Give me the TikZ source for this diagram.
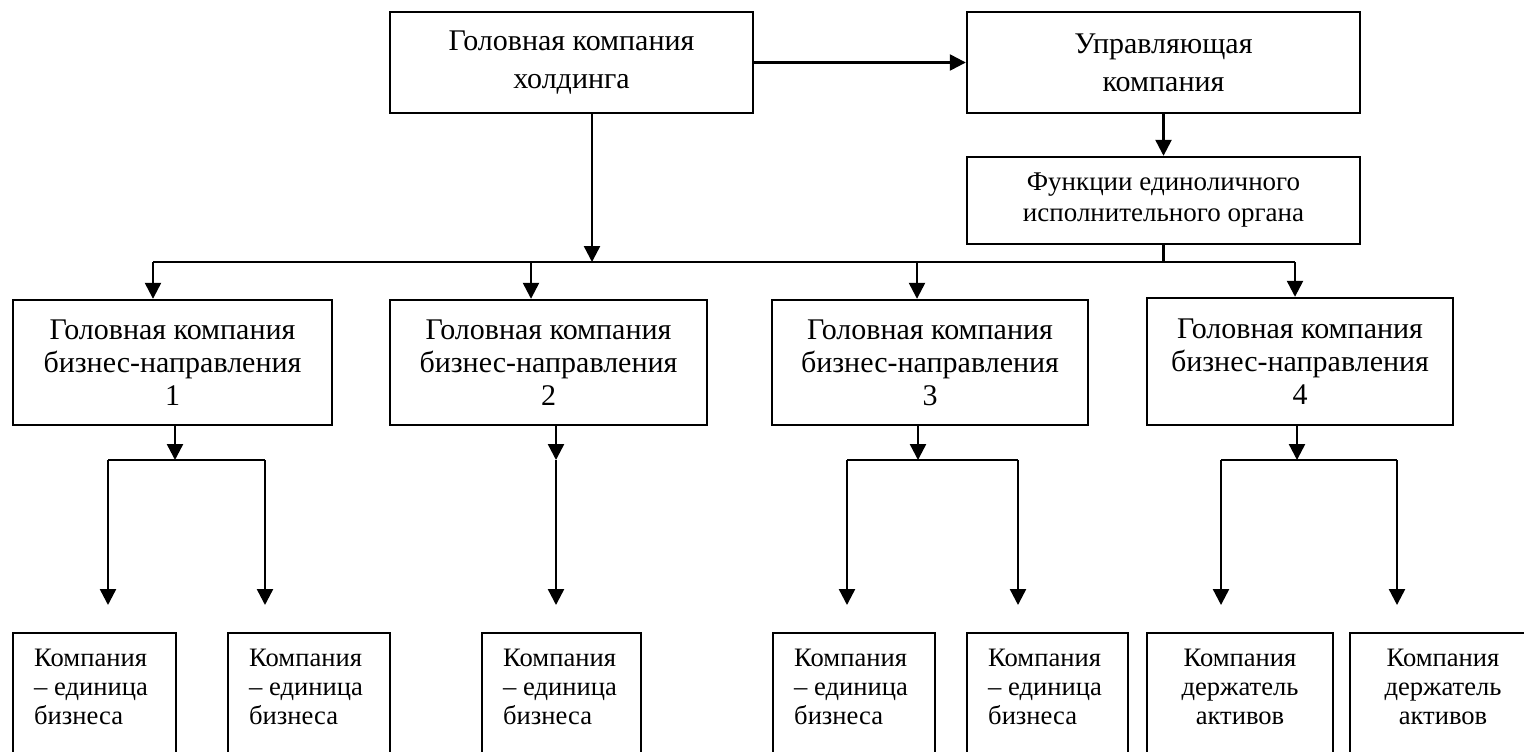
\documentclass[tikz,border=0pt]{standalone}
\usepackage{fontspec}
\setmainfont{Liberation Serif}
\usetikzlibrary{arrows.meta}

\tikzset{
  box/.style={draw, rectangle, line width=1.2pt, inner sep=0pt, align=center},
  head/.style={box, font=\fontsize{15pt}{19pt}\selectfont},
  dept/.style={box, font=\fontsize{15pt}{16.5pt}\selectfont},
  unit/.style={draw, rectangle, line width=1.2pt, inner sep=0pt, anchor=north, minimum height=85pt},
  unittext/.style={font=\fontsize{13.3pt}{14.5pt}\selectfont, inner sep=0pt}
}

\begin{document}
\begin{tikzpicture}[x=0.5pt, y=-0.5pt, line width=1.2pt, >={Triangle[width=8pt,length=8pt]}]

% page
\path[use as bounding box] (0,0) rectangle (1524,751);
\clip (0,0) rectangle (1524,751);

% holding and management company
  \node[head, minimum width=181.5pt, minimum height=50.5pt] (holding) at (571.5,62.5)
{Головная компания\\холдинга};
  \node[head, minimum width=196.5pt, minimum height=50.5pt] (manager) at (1163.5,62.5)
{Управляющая\\компания};
  \node[box, font=\fontsize{13.5pt}{15.5pt}\selectfont, minimum width=196.5pt, minimum height=43.5pt] (ceo) at (1163.5,200.5)
{Функции единоличного\\исполнительного органа};

% heads of business lines
  \node[dept, minimum width=159.5pt, minimum height=62.5pt] (hq1) at (172.5,362.5)
{Головная компания\\бизнес-направления\\1};
  \node[dept, minimum width=158.5pt, minimum height=62.5pt] (hq2) at (548.5,362.5)
{Головная компания\\бизнес-направления\\2};
  \node[dept, minimum width=158pt, minimum height=62.5pt] (hq3) at (930,362.5)
{Головная компания\\бизнес-направления\\3};
  \node[dept, minimum width=153pt, minimum height=63.5pt] (hq4) at (1300,361.5)
{Головная компания\\бизнес-направления\\4};

% companies
  \node[unit, minimum width=81.5pt] (bu1) at (94.5,632) {};
  \node[unit, minimum width=81pt]   (bu2) at (309,632) {};
  \node[unit, minimum width=79.5pt] (bu3) at (561.5,632) {};
  \node[unit, minimum width=81pt]   (bu4) at (854,632) {};
  \node[unit, minimum width=80.5pt] (bu5) at (1047.5,632) {};
  \node[unit, minimum width=93pt]   (bu6) at (1240,632) {};
  \node[unit, minimum width=93pt]   (bu7) at (1443,632) {};

  \node[unittext, anchor=north west, align=left] (bt1) at (33,648) {Компания\\– единица\\бизнеса};
  \node[unittext, anchor=north west, align=left] (bt2) at (248,648) {Компания\\– единица\\бизнеса};
  \node[unittext, anchor=north west, align=left] (bt3) at (502,648) {Компания\\– единица\\бизнеса};
  \node[unittext, anchor=north west, align=left] (bt4) at (793,648) {Компания\\– единица\\бизнеса};
  \node[unittext, anchor=north west, align=left] (bt5) at (987,648) {Компания\\– единица\\бизнеса};
  \node[unittext, anchor=north, align=center] (bt6) at (1240,648) {Компания\\держатель\\активов};
  \node[unittext, anchor=north, align=center] (bt7) at (1443,648) {Компания\\держатель\\активов};

% bus points
  \coordinate (hub) at (592,262);
  \coordinate (d1) at (153,262);
  \coordinate (d2) at (531,262);
  \coordinate (d3) at (917,262);
  \coordinate (d4) at (1295,262);
  \coordinate (s1) at (175,460);
  \coordinate (l1) at (108,460);
  \coordinate (r1) at (265,460);
  \coordinate (s2) at (556,460);
  \coordinate (s3) at (918,460);
  \coordinate (l3) at (847,460);
  \coordinate (r3) at (1018,460);
  \coordinate (s4) at (1297,460);
  \coordinate (l4) at (1221,460);
  \coordinate (r4) at (1397,460);
  \coordinate (lvl3) at (0,605);

% links
  \draw[->] (holding) -- (manager);
  \draw[->] (manager) -- (ceo);
  \draw[->] (holding.south -| hub) -- (hub);
  \draw (ceo.south) -- (ceo.south |- hub);
  \draw (d1) -- (d4);
  \draw[->] (d1) -- (d1 |- hq1.north);
  \draw[->] (d2) -- (d2 |- hq2.north);
  \draw[->] (d3) -- (d3 |- hq3.north);
  \draw[->] (d4) -- (d4 |- hq4.north);

  \draw[->] (hq1.south -| s1) -- (s1);
  \draw (l1) -- (r1);
  \draw[->] (l1) -- (l1 |- lvl3);
  \draw[->] (r1) -- (r1 |- lvl3);

  \draw[->] (hq2.south -| s2) -- (s2);
  \draw[->] (s2) -- (s2 |- lvl3);

  \draw[->] (hq3.south -| s3) -- (s3);
  \draw (l3) -- (r3);
  \draw[->] (l3) -- (l3 |- lvl3);
  \draw[->] (r3) -- (r3 |- lvl3);

  \draw[->] (hq4.south -| s4) -- (s4);
  \draw (l4) -- (r4);
  \draw[->] (l4) -- (l4 |- lvl3);
  \draw[->] (r4) -- (r4 |- lvl3);

\end{tikzpicture}
\end{document}
